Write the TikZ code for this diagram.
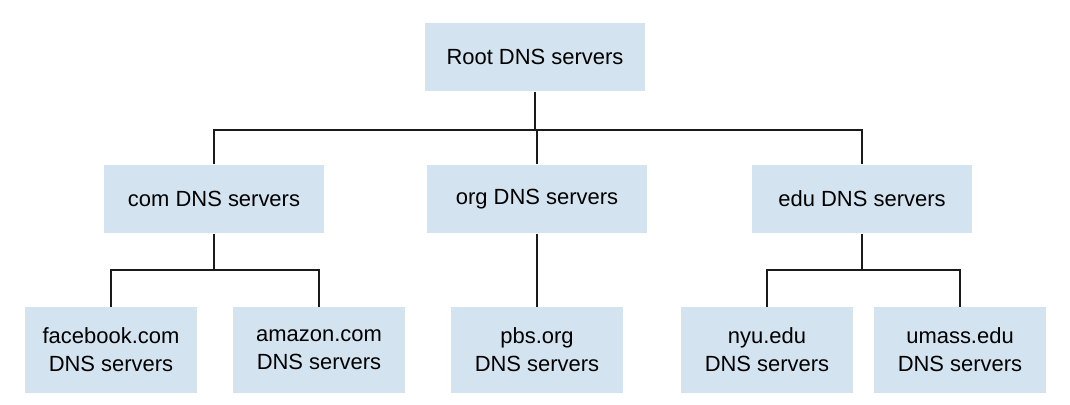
\documentclass[tikz,border=0pt]{standalone}
\usepackage{fontspec}
\setmainfont{Liberation Sans}
\definecolor{dnsblue}{HTML}{D3E3F0}
\definecolor{dnsline}{HTML}{1A1A1A}

\begin{document}
\begin{tikzpicture}[x=0.02cm, y=-0.02cm,
  dnsbox/.style={fill=dnsblue, minimum width=4.4cm, minimum height=1.38cm, align=center, font=\fontsize{12.5}{16}\selectfont, inner sep=0pt},
  hostbox/.style={dnsbox, minimum width=3.44cm, minimum height=1.72cm},
  link/.style={thick, dnsline, line width=0.9pt}]
\useasboundingbox (0,0) rectangle (1070,405);

\node[dnsbox] (root) at (535,57) {Root DNS servers};

\node[dnsbox] (com) at (214,199) {com DNS servers};
\node[dnsbox] (org) at (537,199) {org DNS servers};
\node[dnsbox] (edu) at (862,199) {edu DNS servers};

\node[hostbox] (facebook) at (111,350) {facebook.com\\DNS servers};
\node[hostbox] (amazon) at (319,350) {amazon.com\\DNS servers};
\node[hostbox] (pbs) at (537,350) {pbs.org\\DNS servers};
\node[hostbox] (nyu) at (767,350) {nyu.edu\\DNS servers};
\node[hostbox] (umass) at (960,350) {umass.edu\\DNS servers};

\coordinate (rootjoin) at (537,130);
\coordinate (comjoin) at (214,270);
\coordinate (edujoin) at (862,270);

\draw[link] (root.south) |- (rootjoin);
\draw[link] (com.north) |- (rootjoin) -| (edu.north);
\draw[link] (rootjoin) -- (org.north);

\draw[link] (com.south) -- (comjoin);
\draw[link] (facebook.north) |- (comjoin) -| (amazon.north);
\draw[link] (org.south) -- (pbs.north);
\draw[link] (edu.south) -- (edujoin);
\draw[link] (nyu.north) |- (edujoin) -| (umass.north);
\end{tikzpicture}
\end{document}
